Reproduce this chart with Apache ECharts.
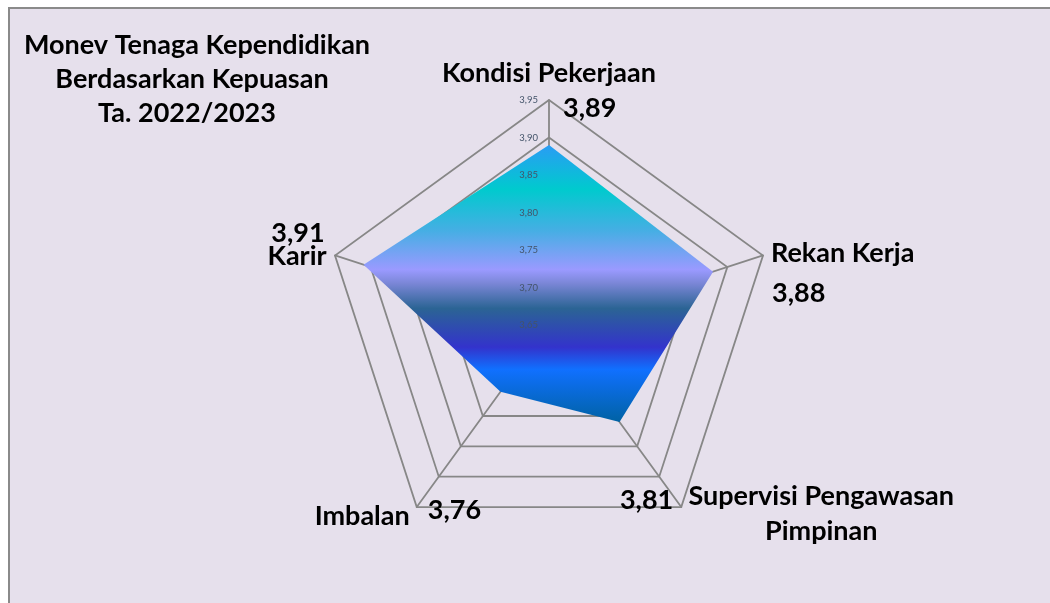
<!DOCTYPE html>
<html><head><meta charset="utf-8">
<script src="https://cdn.jsdelivr.net/npm/echarts@6/dist/echarts.min.js"></script>
<style>
html,body{margin:0;padding:0;background:#ffffff;width:1050px;height:603px;overflow:hidden;}
#frame{position:absolute;left:8px;top:7px;width:1100px;height:700px;background:#E6E0EC;border-left:2px solid #8a8a8a;border-top:2px solid #8a8a8a;}
#chart{position:absolute;left:0;top:0;width:1050px;height:603px;}
</style></head><body>
<div id="frame"></div><div id="chart"></div>
<script>
// ---- data ----
const titleLines = ['Monev Tenaga Kependidikan', 'Berdasarkan Kepuasan', 'Ta. 2022/2023'];
const categories = ['Kondisi Pekerjaan', 'Rekan Kerja', 'Supervisi Pengawasan Pimpinan', 'Imbalan', 'Karir'];
const values = [3.89, 3.88, 3.81, 3.76, 3.91];
const axisMin = 3.65;
const axisMax = 3.95;
const axisStep = 0.05;
const tickLabels = ['3,65', '3,70', '3,75', '3,80', '3,85', '3,90', '3,95'];

// ---- layout / style ----
const CENTER = [549, 325];
const RADIUS = 225;
// ECharts lays radar indicators out counter-clockwise; the reference runs clockwise
const ecOrder = [0, 4, 3, 2, 1];
const FONT = 'Lato, "Open Sans", sans-serif';
const gridColor = '#878787';
const fmt = v => v.toFixed(2).replace('.', ',');

// label offsets relative to each outer vertex
const labelLayout = [
  { name: { dx: 0, dy: -27, align: 'center' }, value: { dx: 14, dy: 8, align: 'left' } },
  { name: { dx: 8, dy: -2, align: 'left' }, value: { dx: 9, dy: 38, align: 'left' } },
  { name: { dx: 140, dy: 7, align: 'center', wrap: true }, value: { dx: -8, dy: -7, align: 'right' } },
  { name: { dx: -7, dy: 9, align: 'right' }, value: { dx: 11, dy: 3, align: 'left' } },
  { name: { dx: -38, dy: 1, align: 'center' }, value: { dx: -37, dy: -22, align: 'center' } }
];
// small horizontal nudges of the title lines (the reference lines are not exactly centred)
const titlePad = [[0, 0, 0, 10], [0, 0, 0, 0], [0, 10, 0, 0]];

const splitCount = Math.round((axisMax - axisMin) / axisStep);
const titleRich = {};
titleLines.forEach((t, i) => { titleRich['t' + i] = { padding: titlePad[i] }; });

const option = {
  backgroundColor: 'transparent',
  animation: false,
  title: {
    text: titleLines.map((t, i) => '{t' + i + '|' + t + '}').join('\n'),
    left: 192,
    top: 28,
    padding: 0,
    textAlign: 'center',
    textStyle: { fontFamily: FONT, fontWeight: 'bold', fontSize: 27, lineHeight: 34, color: '#000', rich: titleRich }
  },
  radar: {
    center: CENTER,
    radius: RADIUS,
    startAngle: 90,
    splitNumber: splitCount,
    shape: 'polygon',
    indicator: ecOrder.map(i => ({ name: categories[i], min: axisMin, max: axisMax })),
    axisName: { show: false },
    splitArea: { show: false },
    splitLine: { lineStyle: { color: gridColor, width: 1.8 } },
    axisLine: { lineStyle: { color: gridColor, width: 1.8 } },
    axisTick: { show: false },
    axisLabel: { show: false }
  },
  grid: { left: CENTER[0], top: CENTER[1] - RADIUS, width: 10, height: RADIUS, containLabel: false, z: 20 },
  xAxis: { type: 'value', show: false },
  yAxis: {
    type: 'value', min: axisMin, max: axisMax, interval: axisStep, z: 20,
    axisLine: { show: false }, axisTick: { show: false }, splitLine: { show: false },
    axisLabel: {
      margin: 11, fontSize: 9.5, fontFamily: FONT, color: '#44546A',
      formatter: (v) => tickLabels[Math.round((v - axisMin) / axisStep)]
    }
  },
  series: [{
    type: 'radar',
    z: 2,
    symbol: 'none',
    lineStyle: { width: 0, opacity: 0 },
    areaStyle: {
      opacity: 1,
      color: {
        type: 'linear', x: 0, y: 0, x2: 0, y2: 1,
        colorStops: [
          { offset: 0.00, color: '#2A9CF4' },
          { offset: 0.16, color: '#00CACE' },
          { offset: 0.31, color: '#46AEE4' },
          { offset: 0.45, color: '#9A9AFF' },
          { offset: 0.50, color: '#7A86D6' },
          { offset: 0.59, color: '#2B6494' },
          { offset: 0.73, color: '#3333CC' },
          { offset: 0.81, color: '#1070FF' },
          { offset: 1.00, color: '#0062A4' }
        ]
      }
    },
    data: [{ value: ecOrder.map(i => values[i]) }]
  }]
};

const chart = echarts.init(document.getElementById('chart'));
chart.setOption(option);

function vertexOf(refIdx) {
  const ecIdx = ecOrder.indexOf(refIdx);
  try {
    const cs = chart.getModel().getComponent('radar').coordinateSystem;
    const p = cs.dataToPoint(axisMax, ecIdx);
    if (p && isFinite(p[0]) && isFinite(p[1])) return p;
  } catch (e) {}
  const ang = Math.PI / 2 + ecIdx * 2 * Math.PI / categories.length;
  return [CENTER[0] + RADIUS * Math.cos(ang), CENTER[1] - RADIUS * Math.sin(ang)];
}

const texts = [];
categories.forEach((cat, i) => {
  const v = vertexOf(i);
  const L = labelLayout[i];
  let nameText = cat;
  if (L.name.wrap) {
    const k = cat.lastIndexOf(' ');
    nameText = cat.slice(0, k) + '\n' + cat.slice(k + 1);
  }
  texts.push({
    type: 'text', x: v[0] + L.name.dx, y: v[1] + L.name.dy, z: 30,
    style: { text: nameText, fill: '#000', font: 'bold 27px ' + FONT, lineHeight: 35, align: L.name.align, verticalAlign: 'middle' }
  });
  texts.push({
    type: 'text', x: v[0] + L.value.dx, y: v[1] + L.value.dy, z: 30,
    style: { text: fmt(values[i]), fill: '#000', font: 'bold 27px ' + FONT, align: L.value.align, verticalAlign: 'middle' }
  });
});
chart.setOption({ graphic: texts });
</script>
</body></html>
